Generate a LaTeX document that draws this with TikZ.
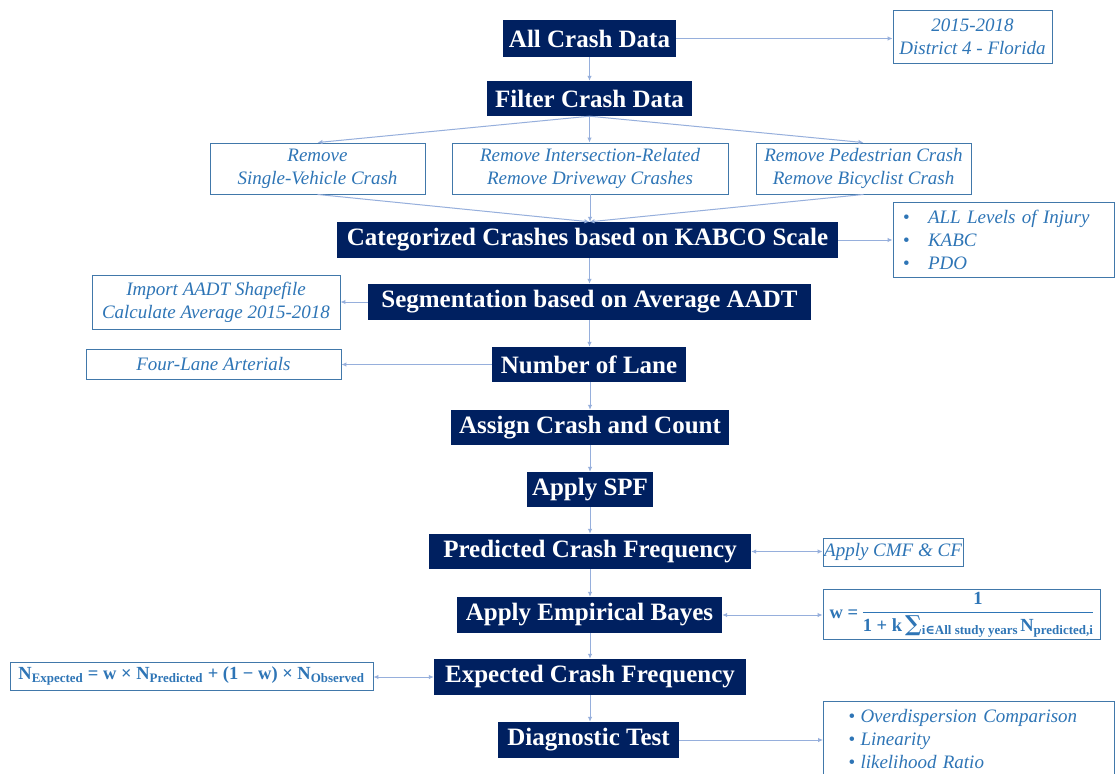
\documentclass[tikz,border=0pt]{standalone}
\usepackage{fontspec}
\setmainfont{Liberation Serif}
\newfontfamily\symf{DejaVu Serif}
\usetikzlibrary{arrows.meta}
\definecolor{navy}{RGB}{0,32,96}
\definecolor{tblue}{RGB}{46,117,182}
\definecolor{bord}{RGB}{65,120,170}
\definecolor{arr}{RGB}{150,175,220}
\newcommand{\wformula}{\bfseries w = \begin{tabular}[c]{@{}c@{}}1\\[1pt]\hline\rule{0pt}{19pt}1 + k\,{\symf\fontsize{22}{22}\selectfont ∑}\textsubscript{i{\symf ∈}All study years\,}N\textsubscript{predicted,i}\end{tabular}}
\newcommand{\nformula}{\bfseries N\textsubscript{Expected} = w × N\textsubscript{Predicted} + (1 − w) × N\textsubscript{Observed}}
\newcommand{\bul}[1]{\makebox[#1][l]{\upshape\textbullet}}
\begin{document}
\begin{tikzpicture}[x=1pt,y=-1pt,
  mainbox/.style={fill=navy,text=white,font=\fontsize{25}{27}\selectfont\bfseries,inner sep=0pt,align=center},
  sidebox/.style={draw=bord,line width=0.9pt,text=tblue,font=\fontsize{19}{23}\selectfont\itshape,inner sep=0pt,align=center},
  mathbox/.style={draw=bord,line width=0.9pt,text=tblue,font=\fontsize{18.5}{20}\selectfont,inner sep=0pt},
  conn/.style={draw=arr,line width=1pt,-{Latex[length=5pt,width=4.5pt]}},
  dconn/.style={draw=arr,line width=1pt,{Latex[length=5pt,width=4.5pt]}-{Latex[length=5pt,width=4.5pt]}}]
\useasboundingbox[fill=white] (0,0) rectangle (1115,773);

% main column
\node[mainbox,minimum width=173pt,minimum height=37pt] (all) at (589.5,38.5) {All Crash Data};
\node[mainbox,minimum width=205pt,minimum height=35pt] (filter) at (589.5,98.5) {Filter Crash Data};
\node[mainbox,minimum width=501pt,minimum height=36pt] (cat) at (587.5,240) {Categorized Crashes based on KABCO Scale};
\node[mainbox,minimum width=443pt,minimum height=36pt] (seg) at (589.5,302) {Segmentation based on Average AADT};
\node[mainbox,minimum width=194pt,minimum height=35pt] (lane) at (589,364.5) {Number of Lane};
\node[mainbox,minimum width=278pt,minimum height=35pt] (assign) at (590,427.5) {Assign Crash and Count};
\node[mainbox,minimum width=126pt,minimum height=35pt] (spf) at (590,489.5) {Apply SPF};
\node[mainbox,minimum width=322pt,minimum height=35pt] (pred) at (590,551.5) {Predicted Crash Frequency};
\node[mainbox,minimum width=265pt,minimum height=36pt] (bayes) at (589.5,615) {Apply Empirical Bayes};
\node[mainbox,minimum width=312pt,minimum height=36pt] (exp) at (590,677) {Expected Crash Frequency};
\node[mainbox,minimum width=181pt,minimum height=36pt] (diag) at (588.5,740) {Diagnostic Test};

% side boxes
\node[sidebox,minimum width=159pt,minimum height=53pt] (year) at (972.5,36.5) {2015-2018\\District 4 - Florida};
\node[sidebox,minimum width=215pt,minimum height=51pt] (r1) at (317.5,168.5) {Remove\\Single-Vehicle Crash};
\node[sidebox,minimum width=276pt,minimum height=51pt] (r2) at (590,168.5) {Remove Intersection-Related\\Remove Driveway Crashes};
\node[sidebox,minimum width=215pt,minimum height=51pt] (r3) at (863.5,168.5) {Remove Pedestrian Crash\\Remove Bicyclist Crash};
\node[sidebox,minimum height=75pt,text width=201pt,inner xsep=10pt,align=left] (kab) at (1003.5,239.5) {\bul{25pt}ALL Levels of Injury\\\bul{25pt}KABC\\\bul{25pt}PDO};
\node[sidebox,minimum width=248pt,minimum height=54pt] (aadt) at (216,302) {Import AADT Shapefile\\Calculate Average 2015-2018};
\node[sidebox,minimum width=255pt,minimum height=30pt] (four) at (213.5,364) {Four-Lane Arterials};
\node[sidebox,minimum width=140pt,minimum height=28pt] (cmf) at (893,552) {Apply CMF \& CF};
\node[mathbox,minimum width=277pt,minimum height=50pt] (wf) at (961.5,614) {\wformula};
\node[mathbox,minimum width=363pt,minimum height=28pt] (nf) at (191.5,676) {\nformula};
\node[sidebox,minimum height=76pt,text width=241pt,inner xsep=25pt,align=left] (dl) at (969,739) {\bul{12pt}Overdispersion Comparison\\\bul{12pt}Linearity\\\bul{12pt}likelihood Ratio};

% connectors
\draw[conn] (all.east) -- (all.east -| year.west);
\draw[conn] (all.south) -- (all.south |- filter.north);
\draw[conn] (filter.south) -- (r1.north);
\draw[conn] (filter.south) -- (filter.south |- r2.north);
\draw[conn] (filter.south) -- (r3.north);
\draw[conn] (r1.south) -- (cat.north -| filter.south);
\draw[conn] (r2.south) -- (cat.north -| r2.south);
\draw[conn] (r3.south) -- (cat.north -| filter.south);
\draw[conn] (cat.east) -- (cat.east -| kab.west);
\draw[conn] (cat.south -| filter.south) -- (seg.north -| filter.south);
\draw[conn] (seg.west) -- (seg.west -| aadt.east);
\draw[conn] (seg.south -| filter.south) -- (lane.north -| filter.south);
\draw[conn] (lane.west) -- (lane.west -| four.east);
\draw[conn] (lane.south -| assign.north) -- (assign.north);
\draw[conn] (assign.south) -- (spf.north);
\draw[conn] (spf.south) -- (pred.north);
\draw[dconn] (pred.east) -- (pred.east -| cmf.west);
\draw[conn] (pred.south) -- (bayes.north -| pred.south);
\draw[dconn] (bayes.east) -- (bayes.east -| wf.west);
\draw[conn] (bayes.south -| exp.north) -- (exp.north);
\draw[dconn] (exp.west) -- (exp.west -| nf.east);
\draw[conn] (exp.south) -- (exp.south |- diag.north);
\draw[conn] (diag.east) -- (diag.east -| dl.west);
\end{tikzpicture}
\end{document}
